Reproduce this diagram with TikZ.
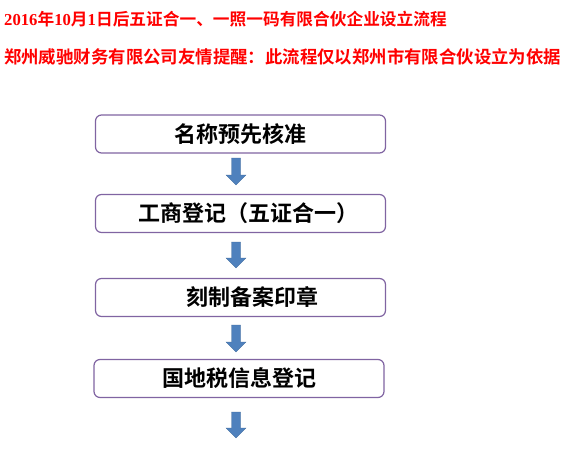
\documentclass[tikz,border=0pt]{standalone}
\usepackage{fontspec}
\newfontfamily\cjk{Noto Sans CJK SC}[BoldFont=* Bold]
\newfontfamily\lser{Liberation Serif}
\definecolor{boxpurple}{RGB}{128,100,162}
\definecolor{arrowblue}{RGB}{79,129,189}
\definecolor{titlered}{RGB}{255,0,0}
\tikzset{
  stepbox/.style={draw=boxpurple, line width=1.2pt, rounded corners=6pt, fill=white,
    minimum width=290pt, minimum height=38pt, inner sep=0pt, font=\cjk\bfseries\fontsize{22}{22}\selectfont},
  titletext/.style={anchor=west, inner sep=0pt, text=titlered, font=\cjk\bfseries\fontsize{16.7}{16.7}\selectfont},
  blockarrow/.style={fill=arrowblue, draw=arrowblue!80!black, line width=0.3pt}
}
\newcommand{\blkarrow}[3]{% x, ytop, ybot
  \filldraw[blockarrow] (#1-4.5,#2) -- (#1+4.5,#2) -- (#1+4.5,#3-10) -- (#1+10,#3-10) -- (#1,#3) -- (#1-10,#3-10) -- (#1-4.5,#3-10) -- cycle;}
\begin{document}
\begin{tikzpicture}[x=1pt,y=-1pt]
\useasboundingbox (0,0) rectangle (567,450);
\node[titletext] (t1) at (4,19) {{\lser\bfseries 2016}年{\lser\bfseries 10}月{\lser\bfseries 1}日后五证合一、一照一码有限合伙企业设立流程};
\node[titletext, font=\cjk\bfseries\fontsize{17.4}{17.4}\selectfont] (t2) at (4,57) {郑州威驰财务有限公司友情提醒：此流程仅以郑州市有限合伙设立为依据};
\node[stepbox] (b1) at (240.5,134) {名称预先核准};
\node[stepbox] (b2) at (240.5,213.5) {\hspace*{16pt}工商登记（五证合一）};
\node[stepbox] (b3) at (240.5,297.5) {\hspace*{24pt}刻制备案印章};
\node[stepbox] (b4) at (239,378.5) {国地税信息登记};
\blkarrow{236}{158}{185}
\blkarrow{236}{242}{268}
\blkarrow{236}{325}{352}
\blkarrow{236}{412}{438}
\end{tikzpicture}
\end{document}
